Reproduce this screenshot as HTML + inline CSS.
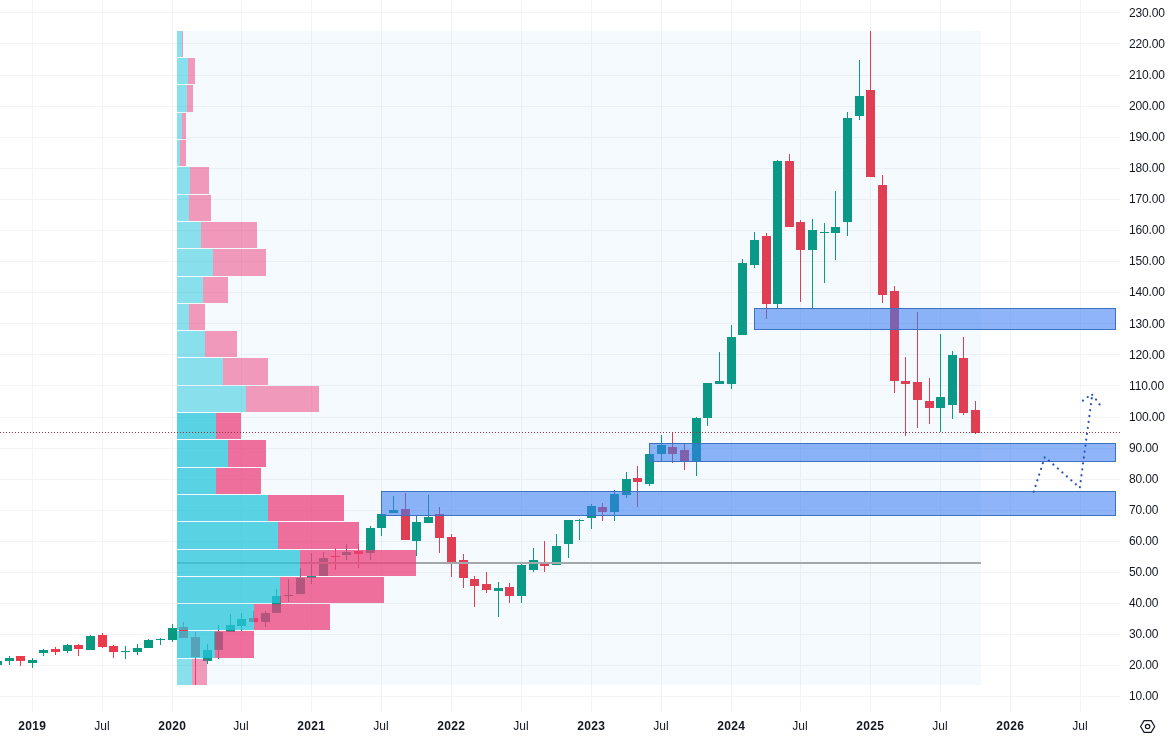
<!DOCTYPE html>
<html><head><meta charset="utf-8"><title>Chart</title>
<style>html,body{margin:0;padding:0;background:#fff;overflow:hidden}svg{display:block}</style>
</head><body>
<svg width="1169" height="738" viewBox="0 0 1169 738">
<rect width="1169" height="738" fill="#fff"/>
<g fill="#F3F4F6" shape-rendering="crispEdges">
<rect x="32" y="0" width="1" height="712"/>
<rect x="102" y="0" width="1" height="712"/>
<rect x="172" y="0" width="1" height="712"/>
<rect x="241" y="0" width="1" height="712"/>
<rect x="311" y="0" width="1" height="712"/>
<rect x="381" y="0" width="1" height="712"/>
<rect x="451" y="0" width="1" height="712"/>
<rect x="521" y="0" width="1" height="712"/>
<rect x="591" y="0" width="1" height="712"/>
<rect x="661" y="0" width="1" height="712"/>
<rect x="731" y="0" width="1" height="712"/>
<rect x="800" y="0" width="1" height="712"/>
<rect x="870" y="0" width="1" height="712"/>
<rect x="940" y="0" width="1" height="712"/>
<rect x="1010" y="0" width="1" height="712"/>
<rect x="1080" y="0" width="1" height="712"/>
<rect x="0" y="12" width="1120" height="1"/>
<rect x="0" y="43" width="1120" height="1"/>
<rect x="0" y="75" width="1120" height="1"/>
<rect x="0" y="106" width="1120" height="1"/>
<rect x="0" y="137" width="1120" height="1"/>
<rect x="0" y="168" width="1120" height="1"/>
<rect x="0" y="199" width="1120" height="1"/>
<rect x="0" y="230" width="1120" height="1"/>
<rect x="0" y="261" width="1120" height="1"/>
<rect x="0" y="292" width="1120" height="1"/>
<rect x="0" y="323" width="1120" height="1"/>
<rect x="0" y="354" width="1120" height="1"/>
<rect x="0" y="385" width="1120" height="1"/>
<rect x="0" y="417" width="1120" height="1"/>
<rect x="0" y="448" width="1120" height="1"/>
<rect x="0" y="479" width="1120" height="1"/>
<rect x="0" y="510" width="1120" height="1"/>
<rect x="0" y="541" width="1120" height="1"/>
<rect x="0" y="572" width="1120" height="1"/>
<rect x="0" y="603" width="1120" height="1"/>
<rect x="0" y="634" width="1120" height="1"/>
<rect x="0" y="665" width="1120" height="1"/>
<rect x="0" y="696" width="1120" height="1"/>
</g>
<g shape-rendering="crispEdges">
<rect x="-3" y="660" width="1" height="7" fill="#089981"/>
<rect x="-7" y="661" width="9" height="4" fill="#089981"/>
<rect x="9" y="656" width="1" height="9" fill="#089981"/>
<rect x="5" y="658" width="9" height="3" fill="#089981"/>
<rect x="20" y="656" width="1" height="10" fill="#EA3A4B"/>
<rect x="16" y="656" width="9" height="5" fill="#EA3A4B"/>
<rect x="32" y="658" width="1" height="10" fill="#089981"/>
<rect x="28" y="660" width="9" height="3" fill="#089981"/>
<rect x="43" y="649" width="1" height="7" fill="#089981"/>
<rect x="39" y="650" width="9" height="3" fill="#089981"/>
<rect x="55" y="647" width="1" height="8" fill="#EA3A4B"/>
<rect x="51" y="649" width="9" height="3" fill="#EA3A4B"/>
<rect x="67" y="644" width="1" height="9" fill="#089981"/>
<rect x="63" y="645" width="9" height="6" fill="#089981"/>
<rect x="78" y="644" width="1" height="12" fill="#EA3A4B"/>
<rect x="74" y="645" width="9" height="4" fill="#EA3A4B"/>
<rect x="90" y="635" width="1" height="15" fill="#089981"/>
<rect x="86" y="636" width="9" height="14" fill="#089981"/>
<rect x="102" y="633" width="1" height="15" fill="#EA3A4B"/>
<rect x="98" y="635" width="9" height="12" fill="#EA3A4B"/>
<rect x="113" y="645" width="1" height="13" fill="#EA3A4B"/>
<rect x="109" y="646" width="9" height="6" fill="#EA3A4B"/>
<rect x="125" y="646" width="1" height="13" fill="#089981"/>
<rect x="121" y="651" width="9" height="1" fill="#089981"/>
<rect x="137" y="644" width="1" height="11" fill="#089981"/>
<rect x="133" y="648" width="9" height="4" fill="#089981"/>
<rect x="148" y="639" width="1" height="9" fill="#089981"/>
<rect x="144" y="640" width="9" height="8" fill="#089981"/>
<rect x="160" y="638" width="1" height="7" fill="#089981"/>
<rect x="156" y="639" width="9" height="1" fill="#089981"/>
<rect x="172" y="624" width="1" height="18" fill="#089981"/>
<rect x="168" y="628" width="9" height="12" fill="#089981"/>
<rect x="183" y="622" width="1" height="16" fill="#EA3A4B"/>
<rect x="179" y="627" width="9" height="11" fill="#EA3A4B"/>
<rect x="195" y="632" width="1" height="53" fill="#EA3A4B"/>
<rect x="191" y="637" width="9" height="20" fill="#EA3A4B"/>
<rect x="207" y="644" width="1" height="20" fill="#089981"/>
<rect x="203" y="650" width="9" height="11" fill="#089981"/>
<rect x="218" y="625" width="1" height="34" fill="#089981"/>
<rect x="214" y="632" width="9" height="18" fill="#089981"/>
<rect x="230" y="614" width="1" height="18" fill="#089981"/>
<rect x="226" y="625" width="9" height="7" fill="#089981"/>
<rect x="241" y="613" width="1" height="18" fill="#089981"/>
<rect x="237" y="619" width="9" height="7" fill="#089981"/>
<rect x="253" y="611" width="1" height="11" fill="#EA3A4B"/>
<rect x="249" y="618" width="9" height="4" fill="#EA3A4B"/>
<rect x="265" y="611" width="1" height="16" fill="#089981"/>
<rect x="261" y="613" width="9" height="9" fill="#089981"/>
<rect x="276" y="589" width="1" height="24" fill="#089981"/>
<rect x="272" y="596" width="9" height="17" fill="#089981"/>
<rect x="288" y="579" width="1" height="23" fill="#089981"/>
<rect x="284" y="595" width="9" height="1" fill="#089981"/>
<rect x="300" y="568" width="1" height="26" fill="#089981"/>
<rect x="296" y="578" width="9" height="16" fill="#089981"/>
<rect x="311" y="553" width="1" height="31" fill="#089981"/>
<rect x="307" y="576" width="9" height="2" fill="#089981"/>
<rect x="323" y="552" width="1" height="24" fill="#089981"/>
<rect x="319" y="558" width="9" height="18" fill="#089981"/>
<rect x="335" y="548" width="1" height="22" fill="#EA3A4B"/>
<rect x="331" y="556" width="9" height="1" fill="#EA3A4B"/>
<rect x="346" y="544" width="1" height="16" fill="#089981"/>
<rect x="342" y="552" width="9" height="3" fill="#089981"/>
<rect x="358" y="544" width="1" height="24" fill="#EA3A4B"/>
<rect x="354" y="551" width="9" height="3" fill="#EA3A4B"/>
<rect x="370" y="526" width="1" height="34" fill="#089981"/>
<rect x="366" y="528" width="9" height="25" fill="#089981"/>
<rect x="381" y="514" width="1" height="22" fill="#089981"/>
<rect x="377" y="514" width="9" height="14" fill="#089981"/>
<rect x="393" y="496" width="1" height="17" fill="#089981"/>
<rect x="389" y="510" width="9" height="3" fill="#089981"/>
<rect x="405" y="493" width="1" height="47" fill="#EA3A4B"/>
<rect x="401" y="509" width="9" height="31" fill="#EA3A4B"/>
<rect x="416" y="516" width="1" height="40" fill="#089981"/>
<rect x="412" y="522" width="9" height="19" fill="#089981"/>
<rect x="428" y="495" width="1" height="28" fill="#089981"/>
<rect x="424" y="517" width="9" height="6" fill="#089981"/>
<rect x="439" y="507" width="1" height="46" fill="#EA3A4B"/>
<rect x="435" y="514" width="9" height="24" fill="#EA3A4B"/>
<rect x="451" y="534" width="1" height="43" fill="#EA3A4B"/>
<rect x="447" y="537" width="9" height="25" fill="#EA3A4B"/>
<rect x="463" y="554" width="1" height="34" fill="#EA3A4B"/>
<rect x="459" y="560" width="9" height="18" fill="#EA3A4B"/>
<rect x="474" y="576" width="1" height="31" fill="#EA3A4B"/>
<rect x="470" y="579" width="9" height="7" fill="#EA3A4B"/>
<rect x="486" y="572" width="1" height="21" fill="#EA3A4B"/>
<rect x="482" y="584" width="9" height="6" fill="#EA3A4B"/>
<rect x="498" y="582" width="1" height="35" fill="#089981"/>
<rect x="494" y="588" width="9" height="3" fill="#089981"/>
<rect x="509" y="583" width="1" height="20" fill="#EA3A4B"/>
<rect x="505" y="587" width="9" height="9" fill="#EA3A4B"/>
<rect x="521" y="564" width="1" height="39" fill="#089981"/>
<rect x="517" y="565" width="9" height="31" fill="#089981"/>
<rect x="533" y="548" width="1" height="24" fill="#089981"/>
<rect x="529" y="560" width="9" height="10" fill="#089981"/>
<rect x="544" y="541" width="1" height="31" fill="#EA3A4B"/>
<rect x="540" y="564" width="9" height="2" fill="#EA3A4B"/>
<rect x="556" y="534" width="1" height="31" fill="#089981"/>
<rect x="552" y="546" width="9" height="19" fill="#089981"/>
<rect x="568" y="520" width="1" height="38" fill="#089981"/>
<rect x="564" y="520" width="9" height="24" fill="#089981"/>
<rect x="579" y="519" width="1" height="21" fill="#089981"/>
<rect x="575" y="520" width="9" height="1" fill="#089981"/>
<rect x="591" y="504" width="1" height="25" fill="#089981"/>
<rect x="587" y="506" width="9" height="12" fill="#089981"/>
<rect x="602" y="503" width="1" height="18" fill="#EA3A4B"/>
<rect x="598" y="507" width="9" height="5" fill="#EA3A4B"/>
<rect x="614" y="490" width="1" height="31" fill="#089981"/>
<rect x="610" y="494" width="9" height="18" fill="#089981"/>
<rect x="626" y="472" width="1" height="26" fill="#089981"/>
<rect x="622" y="479" width="9" height="16" fill="#089981"/>
<rect x="637" y="466" width="1" height="41" fill="#EA3A4B"/>
<rect x="633" y="478" width="9" height="4" fill="#EA3A4B"/>
<rect x="649" y="454" width="1" height="32" fill="#089981"/>
<rect x="645" y="454" width="9" height="30" fill="#089981"/>
<rect x="661" y="435" width="1" height="26" fill="#089981"/>
<rect x="657" y="445" width="9" height="9" fill="#089981"/>
<rect x="672" y="432" width="1" height="31" fill="#EA3A4B"/>
<rect x="668" y="447" width="9" height="7" fill="#EA3A4B"/>
<rect x="684" y="444" width="1" height="26" fill="#EA3A4B"/>
<rect x="680" y="450" width="9" height="11" fill="#EA3A4B"/>
<rect x="696" y="417" width="1" height="59" fill="#089981"/>
<rect x="692" y="418" width="9" height="43" fill="#089981"/>
<rect x="707" y="383" width="1" height="43" fill="#089981"/>
<rect x="703" y="383" width="9" height="35" fill="#089981"/>
<rect x="719" y="352" width="1" height="32" fill="#089981"/>
<rect x="715" y="381" width="9" height="3" fill="#089981"/>
<rect x="731" y="325" width="1" height="64" fill="#089981"/>
<rect x="727" y="337" width="9" height="47" fill="#089981"/>
<rect x="742" y="259" width="1" height="76" fill="#089981"/>
<rect x="738" y="263" width="9" height="72" fill="#089981"/>
<rect x="754" y="232" width="1" height="36" fill="#089981"/>
<rect x="750" y="240" width="9" height="25" fill="#089981"/>
<rect x="766" y="233" width="1" height="86" fill="#EA3A4B"/>
<rect x="762" y="236" width="9" height="68" fill="#EA3A4B"/>
<rect x="777" y="160" width="1" height="149" fill="#089981"/>
<rect x="773" y="161" width="9" height="143" fill="#089981"/>
<rect x="789" y="154" width="1" height="73" fill="#EA3A4B"/>
<rect x="785" y="161" width="9" height="66" fill="#EA3A4B"/>
<rect x="800" y="220" width="1" height="82" fill="#EA3A4B"/>
<rect x="796" y="222" width="9" height="28" fill="#EA3A4B"/>
<rect x="812" y="219" width="1" height="89" fill="#089981"/>
<rect x="808" y="230" width="9" height="20" fill="#089981"/>
<rect x="824" y="223" width="1" height="60" fill="#089981"/>
<rect x="820" y="232" width="9" height="1" fill="#089981"/>
<rect x="835" y="191" width="1" height="69" fill="#089981"/>
<rect x="831" y="227" width="9" height="6" fill="#089981"/>
<rect x="847" y="112" width="1" height="124" fill="#089981"/>
<rect x="843" y="118" width="9" height="104" fill="#089981"/>
<rect x="859" y="60" width="1" height="60" fill="#089981"/>
<rect x="855" y="96" width="9" height="20" fill="#089981"/>
<rect x="870" y="31" width="1" height="146" fill="#EA3A4B"/>
<rect x="866" y="90" width="9" height="87" fill="#EA3A4B"/>
<rect x="882" y="175" width="1" height="128" fill="#EA3A4B"/>
<rect x="878" y="185" width="9" height="110" fill="#EA3A4B"/>
<rect x="894" y="286" width="1" height="107" fill="#EA3A4B"/>
<rect x="890" y="291" width="9" height="90" fill="#EA3A4B"/>
<rect x="905" y="357" width="1" height="79" fill="#EA3A4B"/>
<rect x="901" y="381" width="9" height="3" fill="#EA3A4B"/>
<rect x="917" y="312" width="1" height="116" fill="#EA3A4B"/>
<rect x="913" y="382" width="9" height="18" fill="#EA3A4B"/>
<rect x="929" y="378" width="1" height="46" fill="#EA3A4B"/>
<rect x="925" y="401" width="9" height="7" fill="#EA3A4B"/>
<rect x="940" y="334" width="1" height="98" fill="#089981"/>
<rect x="936" y="397" width="9" height="11" fill="#089981"/>
<rect x="952" y="351" width="1" height="68" fill="#089981"/>
<rect x="948" y="355" width="9" height="50" fill="#089981"/>
<rect x="963" y="337" width="1" height="78" fill="#EA3A4B"/>
<rect x="959" y="358" width="9" height="55" fill="#EA3A4B"/>
<rect x="975" y="401" width="1" height="33" fill="#EA3A4B"/>
<rect x="971" y="410" width="9" height="23" fill="#EA3A4B"/>
</g>
<g shape-rendering="crispEdges">
<rect x="177" y="31" width="804" height="654" fill="rgba(33,150,243,0.05)"/>
<rect x="177" y="562" width="804" height="2" fill="#A3A8AB"/>
<rect x="177" y="31" width="5" height="26" fill="rgba(38,198,218,0.52)"/>
<rect x="182" y="31" width="1" height="26" fill="rgba(236,64,122,0.52)"/>
<rect x="177" y="58" width="11" height="26" fill="rgba(38,198,218,0.52)"/>
<rect x="188" y="58" width="7" height="26" fill="rgba(236,64,122,0.52)"/>
<rect x="177" y="85" width="10" height="27" fill="rgba(38,198,218,0.52)"/>
<rect x="187" y="85" width="6" height="27" fill="rgba(236,64,122,0.52)"/>
<rect x="177" y="113" width="5" height="26" fill="rgba(38,198,218,0.52)"/>
<rect x="182" y="113" width="4" height="26" fill="rgba(236,64,122,0.52)"/>
<rect x="177" y="140" width="3" height="26" fill="rgba(38,198,218,0.52)"/>
<rect x="180" y="140" width="6" height="26" fill="rgba(236,64,122,0.52)"/>
<rect x="177" y="167" width="13" height="27" fill="rgba(38,198,218,0.52)"/>
<rect x="190" y="167" width="19" height="27" fill="rgba(236,64,122,0.52)"/>
<rect x="177" y="195" width="12" height="26" fill="rgba(38,198,218,0.52)"/>
<rect x="189" y="195" width="22" height="26" fill="rgba(236,64,122,0.52)"/>
<rect x="177" y="222" width="24" height="26" fill="rgba(38,198,218,0.52)"/>
<rect x="201" y="222" width="56" height="26" fill="rgba(236,64,122,0.52)"/>
<rect x="177" y="249" width="36" height="27" fill="rgba(38,198,218,0.52)"/>
<rect x="213" y="249" width="53" height="27" fill="rgba(236,64,122,0.52)"/>
<rect x="177" y="277" width="26" height="26" fill="rgba(38,198,218,0.52)"/>
<rect x="203" y="277" width="25" height="26" fill="rgba(236,64,122,0.52)"/>
<rect x="177" y="304" width="12" height="26" fill="rgba(38,198,218,0.52)"/>
<rect x="189" y="304" width="16" height="26" fill="rgba(236,64,122,0.52)"/>
<rect x="177" y="331" width="28" height="26" fill="rgba(38,198,218,0.52)"/>
<rect x="205" y="331" width="32" height="26" fill="rgba(236,64,122,0.52)"/>
<rect x="177" y="358" width="46" height="27" fill="rgba(38,198,218,0.52)"/>
<rect x="223" y="358" width="45" height="27" fill="rgba(236,64,122,0.52)"/>
<rect x="177" y="386" width="69" height="26" fill="rgba(38,198,218,0.52)"/>
<rect x="246" y="386" width="73" height="26" fill="rgba(236,64,122,0.52)"/>
<rect x="177" y="413" width="39" height="26" fill="rgba(38,198,218,0.75)"/>
<rect x="216" y="413" width="25" height="26" fill="rgba(236,64,122,0.75)"/>
<rect x="177" y="440" width="51" height="27" fill="rgba(38,198,218,0.75)"/>
<rect x="228" y="440" width="38" height="27" fill="rgba(236,64,122,0.75)"/>
<rect x="177" y="468" width="39" height="26" fill="rgba(38,198,218,0.75)"/>
<rect x="216" y="468" width="45" height="26" fill="rgba(236,64,122,0.75)"/>
<rect x="177" y="495" width="91" height="26" fill="rgba(38,198,218,0.75)"/>
<rect x="268" y="495" width="76" height="26" fill="rgba(236,64,122,0.75)"/>
<rect x="177" y="522" width="101" height="27" fill="rgba(38,198,218,0.75)"/>
<rect x="278" y="522" width="81" height="27" fill="rgba(236,64,122,0.75)"/>
<rect x="177" y="550" width="123" height="26" fill="rgba(38,198,218,0.75)"/>
<rect x="300" y="550" width="116" height="26" fill="rgba(236,64,122,0.75)"/>
<rect x="177" y="577" width="103" height="26" fill="rgba(38,198,218,0.75)"/>
<rect x="280" y="577" width="104" height="26" fill="rgba(236,64,122,0.75)"/>
<rect x="177" y="604" width="77" height="26" fill="rgba(38,198,218,0.75)"/>
<rect x="254" y="604" width="76" height="26" fill="rgba(236,64,122,0.75)"/>
<rect x="177" y="631" width="38" height="27" fill="rgba(38,198,218,0.75)"/>
<rect x="215" y="631" width="39" height="27" fill="rgba(236,64,122,0.75)"/>
<rect x="177" y="659" width="15" height="26" fill="rgba(38,198,218,0.52)"/>
<rect x="192" y="659" width="15" height="26" fill="rgba(236,64,122,0.52)"/>
</g>
<g shape-rendering="crispEdges" fill="rgba(58,123,241,0.57)" stroke="#3D72BE" stroke-width="1">
<rect x="754.5" y="308.5" width="361" height="21"/>
<rect x="649.5" y="443.5" width="466" height="17.5"/>
<rect x="381.5" y="491.5" width="734" height="23.5"/>
</g>
<line x1="0" y1="432.5" x2="1120" y2="432.5" stroke="#9A2F3C" stroke-width="1" stroke-dasharray="1 2" shape-rendering="crispEdges"/>
<g fill="none" stroke="#2E52B4" stroke-width="2.2" stroke-linecap="round" stroke-dasharray="0.1 5.878">
<path d="M1033.7 491.7 L1044.8 457 L1079.8 487.8 L1092.2 394.85"/>
<path stroke-dasharray="0.1 100" d="M1087.7 397h0.1M1082.9 400.6h0.1M1096 399.6h0.1M1099.5 404.4h0.1M1092.2 394.85h0.1"/>
</g>
<g font-family="'Liberation Sans', sans-serif" font-size="12" fill="#131722" letter-spacing="-0.15">
<text x="1129" y="16.9">230.00</text>
<text x="1129" y="48.0">220.00</text>
<text x="1129" y="79.0">210.00</text>
<text x="1129" y="110.1">200.00</text>
<text x="1129" y="141.1">190.00</text>
<text x="1129" y="172.2">180.00</text>
<text x="1129" y="203.3">170.00</text>
<text x="1129" y="234.3">160.00</text>
<text x="1129" y="265.4">150.00</text>
<text x="1129" y="296.4">140.00</text>
<text x="1129" y="327.5">130.00</text>
<text x="1129" y="358.6">120.00</text>
<text x="1129" y="389.6">110.00</text>
<text x="1129" y="420.7">100.00</text>
<text x="1129" y="451.7">90.00</text>
<text x="1129" y="482.8">80.00</text>
<text x="1129" y="513.9">70.00</text>
<text x="1129" y="544.9">60.00</text>
<text x="1129" y="576.0">50.00</text>
<text x="1129" y="607.0">40.00</text>
<text x="1129" y="638.1">30.00</text>
<text x="1129" y="669.2">20.00</text>
<text x="1129" y="700.2">10.00</text>
</g>
<g font-family="'Liberation Sans', sans-serif" font-size="12" fill="#131722" text-anchor="middle">
<text x="32.2" y="730" font-weight="bold" letter-spacing="0.3">2019</text>
<text x="102" y="730">Jul</text>
<text x="172.2" y="730" font-weight="bold" letter-spacing="0.3">2020</text>
<text x="241" y="730">Jul</text>
<text x="311.2" y="730" font-weight="bold" letter-spacing="0.3">2021</text>
<text x="381" y="730">Jul</text>
<text x="451.2" y="730" font-weight="bold" letter-spacing="0.3">2022</text>
<text x="521" y="730">Jul</text>
<text x="591.2" y="730" font-weight="bold" letter-spacing="0.3">2023</text>
<text x="661" y="730">Jul</text>
<text x="731.2" y="730" font-weight="bold" letter-spacing="0.3">2024</text>
<text x="800" y="730">Jul</text>
<text x="870.2" y="730" font-weight="bold" letter-spacing="0.3">2025</text>
<text x="940" y="730">Jul</text>
<text x="1010.2" y="730" font-weight="bold" letter-spacing="0.3">2026</text>
<text x="1080" y="730">Jul</text>
</g>
<g fill="none" stroke="#131722" stroke-width="1.2"><path d="M1140.6 726.5 L1144.1 720.6 L1151.2 720.6 L1154.7 726.5 L1151.2 732.4 L1144.1 732.4 Z"/><circle cx="1147.6" cy="726.5" r="2.2"/></g>
</svg>
</body></html>
